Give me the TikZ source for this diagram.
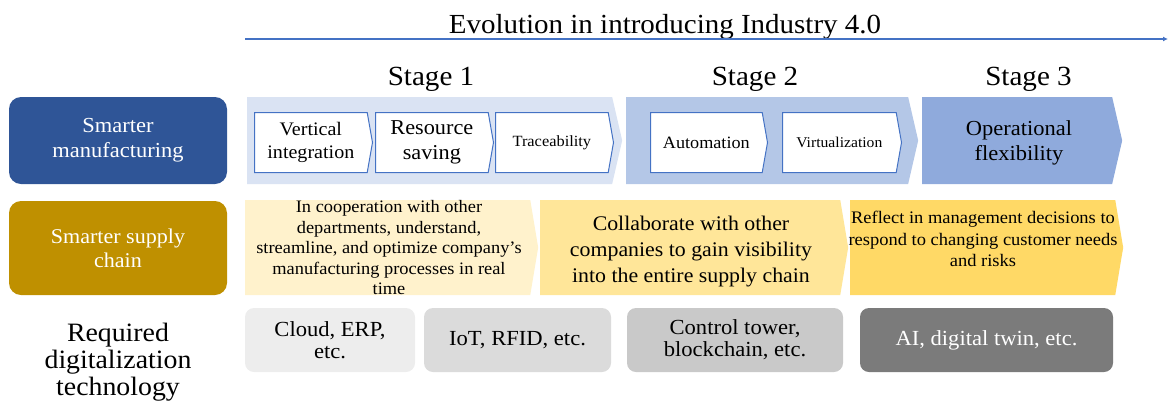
\documentclass[tikz,border=0pt]{standalone}
\usepackage{fontspec}
\setmainfont{Liberation Serif}[FakeStretch=1.05]
\usetikzlibrary{arrows.meta,shapes.symbols}

\definecolor{axisblue}{HTML}{4472C4}
\definecolor{mfgblue}{HTML}{2F5597}
\definecolor{stageA}{HTML}{DAE3F3}
\definecolor{stageB}{HTML}{B4C7E7}
\definecolor{stageC}{HTML}{8FAADC}
\definecolor{supgold}{HTML}{BF9000}
\definecolor{yelA}{HTML}{FFF2CC}
\definecolor{yelB}{HTML}{FFE699}
\definecolor{yelC}{HTML}{FFD966}
\definecolor{grayA}{HTML}{EDEDED}
\definecolor{grayB}{HTML}{DBDBDB}
\definecolor{grayC}{HTML}{C9C9C9}
\definecolor{grayD}{HTML}{7B7B7B}

% font size and baseline skip
\newcommand{\fs}[2]{\fontsize{#1}{#2}\selectfont}

\tikzset{
  rowlabel/.style={rounded corners=12pt, minimum width=218pt, inner sep=0pt,
    align=center, text=white},
  stagebg/.style={shape=signal, signal to=east, signal from=nowhere,
    signal pointer angle=154, minimum height=87pt, inner sep=0pt,
    anchor=west, draw=none},
  stepbox/.style={shape=signal, signal to=east, signal from=nowhere,
    signal pointer angle=160, minimum height=60pt, inner sep=0pt,
    anchor=west, fill=white, draw=axisblue, line width=1pt, align=center},
  supbg/.style={shape=signal, signal to=east, signal from=nowhere,
    signal pointer angle=161, minimum height=95pt, inner sep=0pt,
    anchor=west, draw=none},
  techbox/.style={rounded corners=9pt, minimum height=64pt, inner sep=0pt,
    align=center, font=\fs{21.5}{22}},
  stagelabel/.style={font=\fs{27.7}{30}, anchor=base},
}

\begin{document}
\begin{tikzpicture}[x=1pt, y=-1pt]
\useasboundingbox (0,0) rectangle (1168,405);

% timeline
\node[font=\fs{27.6}{30}, anchor=base] (title) at (665,33) {Evolution in introducing Industry 4.0};
\coordinate (axL) at (245,39);
\coordinate (axR) at (1168,39);
\draw[axisblue, line width=1.2pt, -{Latex[length=5pt,width=5pt]}] (axL) -- (axR);

% stage headings
\node[stagelabel] (st1) at (431,85) {Stage 1};
\node[stagelabel] (st2) at (755,85) {Stage 2};
\node[stagelabel] (st3) at (1028.5,85) {Stage 3};

% row labels
\node[rowlabel, fill=mfgblue, minimum height=87pt, font=\fs{21.4}{25}] (mfg) at (118,140.5)
  {Smarter\\manufacturing};
\node[rowlabel, fill=supgold, minimum height=94pt, font=\fs{21}{24}] (sup) at (118,248)
  {Smarter supply\\chain};
\node[align=center, font=\fs{26.5}{27}] (req) at (118,362)
  {Required\\digitalization\\technology};

% smarter manufacturing stages
\node[stagebg, fill=stageA, minimum width=375pt] (sa) at (247,140.5) {};
\node[stagebg, fill=stageB, minimum width=292pt] (sb) at (626,140.5) {};
\node[stagebg, fill=stageC, minimum width=200pt] (sc) at (922,140.5) {};
\node[font=\fs{21.4}{25}, align=center] (opf) at (1019,143) {Operational\\flexibility};

\node[stepbox, minimum width=118pt, font=\fs{19.1}{23}] (vi) at (254,142.5) {Vertical\\integration};
\node[stepbox, minimum width=118pt, font=\fs{21.2}{25}] (rs) at (375,142.5) {Resource\\saving};
\node[stepbox, minimum width=118pt, font=\fs{15.6}{18}] (tr) at (495,142.5) {Traceability};
\node[stepbox, minimum width=117pt, font=\fs{17.3}{20}] (au) at (650,142.5) {Automation};
\node[stepbox, minimum width=119pt, font=\fs{14.9}{18}] (vz) at (782,142.5) {Virtualization};

% smarter supply chain stages
\node[supbg, fill=yelA, minimum width=293pt] (ya) at (245,247.5) {};
\node[supbg, fill=yelB, minimum width=308pt] (yb) at (540,247.5) {};
\node[supbg, fill=yelC, minimum width=273pt] (yc) at (850,247.5) {};

\node[align=center, font=\fs{17.5}{20.5}] (yat) at (389,248)
  {In cooperation with other\\departments, understand,\\streamline, and optimize company's\\manufacturing processes in real\\time};
\node[align=center, font=\fs{20.8}{26}] (ybt) at (691,252)
  {Collaborate with other\\companies to gain visibility\\into the entire supply chain};
\node[align=center, font=\fs{17.6}{21.5}] (yct) at (983,239)
  {Reflect in management decisions to\\respond to changing customer needs\\and risks};

% required technology
\node[techbox, fill=grayA, minimum width=170pt] (ta) at (330,340) {Cloud, ERP,\\etc.};
\node[techbox, fill=grayB, minimum width=187pt] (tb) at (517.5,340) {IoT, RFID, etc.};
\node[techbox, fill=grayC, minimum width=216pt] (tc) at (735,340) {Control tower,\\blockchain, etc.};
\node[techbox, fill=grayD, minimum width=253pt, text=white] (td) at (986.5,340) {AI, digital twin, etc.};
\end{tikzpicture}
\end{document}
